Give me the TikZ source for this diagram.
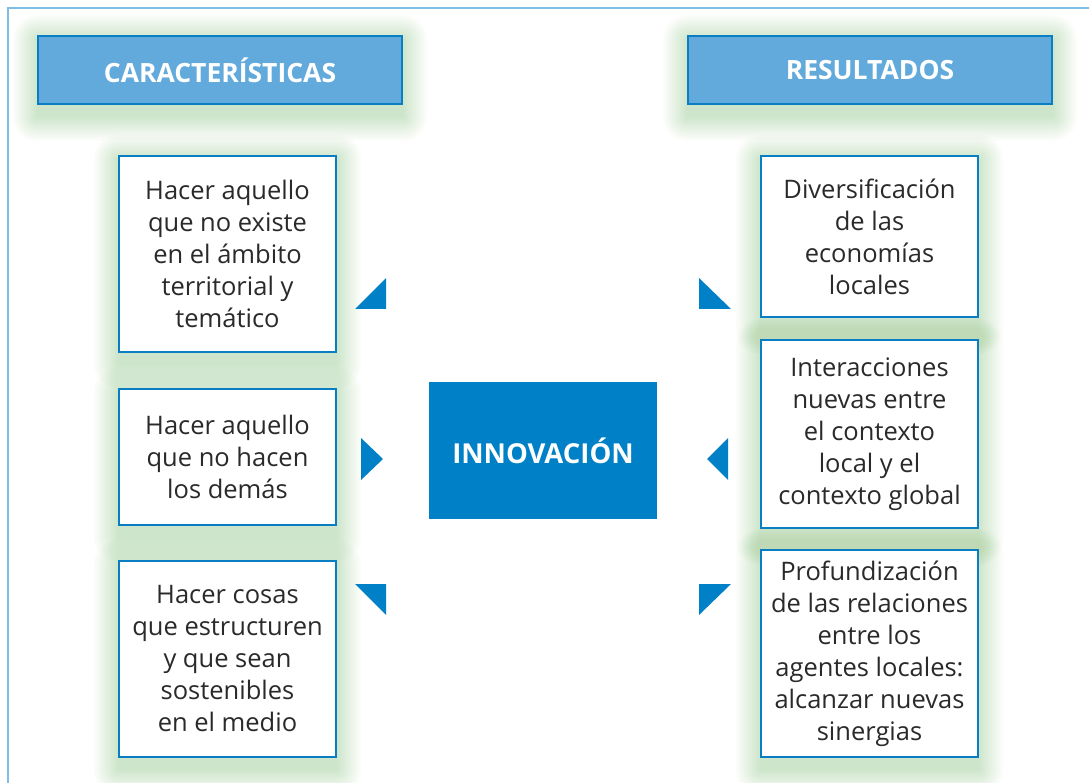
\documentclass[tikz,border=0pt]{standalone}
\usepackage{fontspec}
\setmainfont{Open Sans}
\usetikzlibrary{backgrounds}
\definecolor{hdr}{HTML}{62AADB}
\definecolor{bord}{HTML}{0A7EC2}
\definecolor{core}{HTML}{0080C6}
\definecolor{frame}{HTML}{7DBDE6}
\definecolor{txt}{HTML}{2A2A2A}
\definecolor{shd}{HTML}{8CBF7A}
\tikzset{
  header/.style={draw=bord, line width=2pt, fill=hdr, minimum width=364pt, minimum height=68pt, text=white, font=\fontsize{26.5}{30}\selectfont\bfseries, inner sep=0pt},
  item/.style={draw=bord, line width=2.4pt, fill=white, minimum width=217pt, text=txt, align=center, font=\fontsize{25.5}{32}\selectfont, inner sep=0pt},
  core/.style={fill=core, minimum width=228pt, minimum height=137pt, text=white, font=\fontsize{27.5}{30}\selectfont\bfseries, inner sep=0pt},
  tri/.style={fill=core, draw=none},
  shadowlayer/.style={fill=shd, opacity=0.014}
}
\newcommand\softshadow[1]{%
  \foreach \k in {0,1,...,24} {%
    \fill[shadowlayer, rounded corners=\k pt]
      ([xshift=-\k pt, yshift=-4pt+\k pt]#1.north west) rectangle
      ([xshift=\k pt, yshift=-12pt-\k pt]#1.south east);
  }%
}
\begin{document}
\begin{tikzpicture}[x=1pt,y=-1pt]
\useasboundingbox (0,0) rectangle (1089,783);
\node[header] (hc) at (220,70) {CARACTERÍSTICAS};
\node[header] (hr) at (870,70) {RESULTADOS};
\node[item, minimum height=196pt] (l1) at (227.5,254) {Hacer aquello\\que no existe\\en el ámbito\\territorial y\\temático};
\node[item, minimum height=136pt] (l2) at (227.5,457) {Hacer aquello\\que no hacen\\los demás};
\node[item, minimum height=196pt] (l3) at (227.5,659) {Hacer cosas\\que estructuren\\y que sean\\sostenibles\\en el medio};
\node[item, minimum height=161pt] (r1) at (869.5,236.5) {Diversificación\\de las\\economías\\locales};
\node[item, minimum height=188pt] (r2) at (869.5,434) {Interacciones\\nuevas entre\\el contexto\\local y el\\contexto global};
\node[item, minimum height=207pt] (r3) at (869.5,653.5) {Profundización\\de las relaciones\\entre los\\agentes locales:\\alcanzar nuevas\\sinergias};
\node[core] (inn) at (543,450.5) {INNOVACIÓN};
\begin{scope}[on background layer]
  \fill[white] (0,0) rectangle (1089,783);
  \softshadow{hc}\softshadow{hr}
  \softshadow{l1}\softshadow{l2}\softshadow{l3}
  \softshadow{r1}\softshadow{r2}\softshadow{r3}
  \draw[frame, line width=1.5pt] (8,790) -- (8,8) -- (1095,8);
\end{scope}
\coordinate (tl) at (386,278);
\coordinate (tm) at (361,438);
\coordinate (tb) at (386,584);
\coordinate (trt) at (699,278);
\coordinate (trm) at (728,438);
\coordinate (trb) at (699,584);
\fill[tri] (tl) -- ++(0,31) -- ++(-31,0) -- cycle;
\fill[tri] (tm) -- ++(0,42) -- ++(22,-21) -- cycle;
\fill[tri] (tb) -- ++(0,31) -- ++(-31,-31) -- cycle;
\fill[tri] (trt) -- ++(0,31) -- ++(32,0) -- cycle;
\fill[tri] (trm) -- ++(0,42) -- ++(-21,-21) -- cycle;
\fill[tri] (trb) -- ++(0,31) -- ++(32,-31) -- cycle;
\end{tikzpicture}
\end{document}
